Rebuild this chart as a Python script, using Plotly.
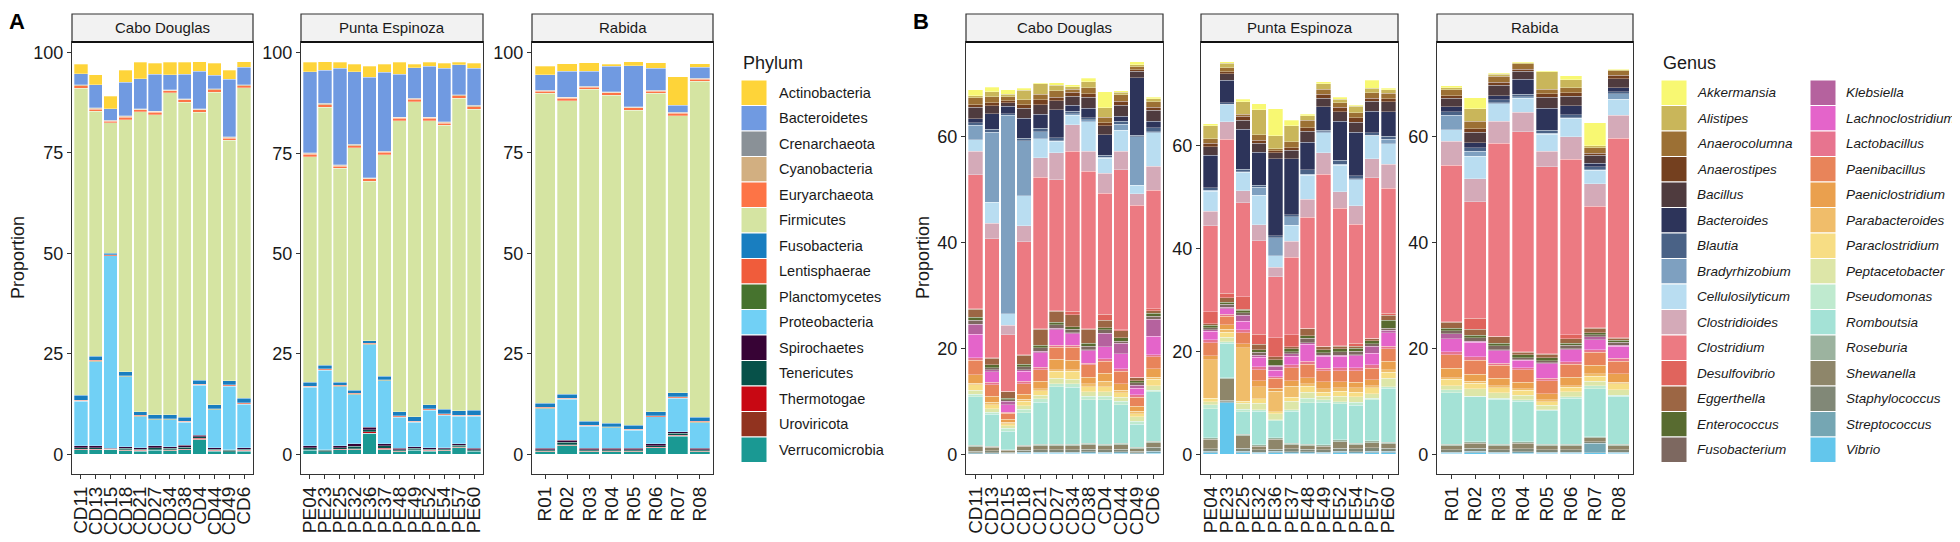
import plotly.graph_objects as go

W, H = 1960, 542
FONT = "Liberation Sans, Arial, sans-serif"

# ---------------- categories ----------------
sites = ["Cabo Douglas", "Punta Espinoza", "Rabida"]
cd_samples = ["CD11", "CD13", "CD15", "CD18", "CD21", "CD27", "CD34", "CD38", "CD4", "CD44", "CD49", "CD6"]
pe_samples = ["PE04", "PE23", "PE25", "PE32", "PE36", "PE37", "PE48", "PE49", "PE52", "PE54", "PE57", "PE60"]
r_samples = ["R01", "R02", "R03", "R04", "R05", "R06", "R07", "R08"]
site_samples = [cd_samples, pe_samples, r_samples]

phyla = ["Actinobacteria", "Bacteroidetes", "Crenarchaeota", "Cyanobacteria", "Euryarchaeota",
         "Firmicutes", "Fusobacteria", "Lentisphaerae", "Planctomycetes", "Proteobacteria",
         "Spirochaetes", "Tenericutes", "Thermotogae", "Uroviricota", "Verrucomicrobia"]
phylum_colors = ["#FED439", "#709AE1", "#8A9197", "#D2AF81", "#FD7446", "#D5E4A2", "#197EC0",
                 "#F05C3B", "#46732E", "#71D0F5", "#370335", "#075149", "#C80813", "#91331F", "#1A9993"]

genera = ["Akkermansia", "Alistipes", "Anaerocolumna", "Anaerostipes", "Bacillus", "Bacteroides",
          "Blautia", "Bradyrhizobium", "Cellulosilyticum", "Clostridioides", "Clostridium",
          "Desulfovibrio", "Eggerthella", "Enterococcus", "Fusobacterium", "Klebsiella",
          "Lachnoclostridium", "Lactobacillus", "Paenibacillus", "Paeniclostridium", "Parabacteroides",
          "Paraclostridium", "Peptacetobacter", "Pseudomonas", "Romboutsia", "Roseburia", "Shewanella",
          "Staphylococcus", "Streptococcus", "Vibrio"]
genus_colors = ["#F8F872", "#C9B65A", "#9C7034", "#74401F", "#4F3B3E", "#2D345A", "#4A6286", "#7EA0C0",
                "#B9DDF1", "#D4AAB8", "#EC7A82", "#E0645D", "#9C6644", "#586B30", "#7D6860", "#B5629E",
                "#E464CA", "#E7748F", "#E8845A", "#EAA04E", "#F0BD6A", "#F7DD84", "#DDE6A8", "#BFEACF",
                "#A4E2D6", "#9CB39F", "#8E866A", "#818877", "#75A6B3", "#63C6EC"]

# ---------------- Phylum proportions (CD x12, PE x12, R x8) ----------------
Actinobacteria = [2.4, 2.5, 3.1, 2.9, 4.1, 2.7, 3.1, 3.0, 2.4, 3.0, 2.2, 1.4,
                  2.3, 2.1, 1.5, 1.9, 2.7, 2.1, 2.9, 0.9, 1.0, 1.3, 0.7, 1.3,
                  2.1, 1.9, 2.1, 0.5, 1.0, 1.3, 7.0, 0.9]
Bacteroidetes = [2.7, 5.8, 2.8, 8.4, 7.5, 9.2, 3.8, 6.1, 9.3, 3.3, 14.3, 4.3,
                 20.2, 8.3, 24.0, 18.1, 25.0, 19.6, 10.7, 7.6, 12.7, 13.3, 7.4, 9.2,
                 3.9, 6.4, 3.7, 6.3, 10.2, 5.5, 1.8, 2.7]
Crenarchaeota = [0.1, 0.1, 0.1, 0.1, 0.1, 0.1, 0.1, 0.1, 0.1, 0.1, 0.1, 0.1,
                 0.1, 0.1, 0.1, 0.1, 0.1, 0.1, 0.1, 0.1, 0.1, 0.1, 0.1, 0.1,
                 0.1, 0.1, 0.1, 0.1, 0.1, 0.1, 0.1, 0.1]
Cyanobacteria = [0.2, 0.2, 0.2, 0.2, 0.2, 0.2, 0.2, 0.2, 0.2, 0.2, 0.2, 0.2,
                 0.2, 0.2, 0.2, 0.2, 0.2, 0.2, 0.2, 0.2, 0.2, 0.2, 0.2, 0.2,
                 0.2, 0.2, 0.2, 0.2, 0.2, 0.2, 0.2, 0.2]
Euryarchaeota = [0.6, 0.6, 0.3, 0.6, 0.5, 0.6, 0.5, 0.6, 0.6, 0.6, 0.5, 0.5,
                 0.7, 0.6, 0.6, 0.6, 0.6, 0.6, 0.6, 0.6, 0.6, 0.6, 0.6, 0.6,
                 0.5, 0.6, 0.5, 0.5, 0.6, 0.5, 0.6, 0.5]
Firmicutes = [76.4, 60.9, 32.5, 62.8, 74.6, 74.7, 80.1, 78.4, 66.6, 77.8, 59.9, 77.3,
              56.1, 64.3, 53.2, 60.3, 39.7, 55.2, 72.5, 78.4, 70.8, 70.7, 77.8, 75.0,
              77.1, 73.0, 82.6, 81.6, 78.4, 79.2, 68.9, 83.6]
Fusobacteria = [1.2, 1.0, 0.4, 0.9, 0.9, 0.9, 0.9, 0.9, 1.0, 0.9, 1.0, 1.1,
                1.0, 0.9, 0.8, 0.8, 0.6, 0.8, 1.0, 1.1, 1.0, 1.1, 1.1, 1.2,
                1.0, 1.0, 0.9, 0.9, 0.9, 1.0, 1.0, 1.0]
Lentisphaerae = [0.2, 0.2, 0.2, 0.2, 0.2, 0.2, 0.2, 0.2, 0.2, 0.2, 0.2, 0.2,
                 0.2, 0.2, 0.2, 0.2, 0.3, 0.2, 0.2, 0.2, 0.2, 0.2, 0.2, 0.2,
                 0.2, 0.2, 0.2, 0.2, 0.2, 0.2, 0.2, 0.2]
Planctomycetes = [0.1, 0.1, 0.05, 0.1, 0.1, 0.1, 0.1, 0.1, 0.1, 0.1, 0.1, 0.1,
                  0.1, 0.1, 0.1, 0.1, 0.1, 0.1, 0.1, 0.1, 0.1, 0.1, 0.1, 0.1,
                  0.1, 0.1, 0.1, 0.1, 0.1, 0.1, 0.1, 0.1]
Proteobacteria = [11.1, 21.0, 47.9, 17.4, 7.7, 6.5, 6.7, 5.7, 12.4, 9.5, 15.8, 10.9,
                  14.6, 19.8, 14.8, 12.3, 20.6, 15.6, 7.8, 6.1, 9.4, 8.1, 6.8, 8.0,
                  9.9, 10.2, 5.5, 5.1, 4.5, 6.7, 8.4, 6.4]
Spirochaetes = [0.4, 0.4, 0.1, 0.4, 0.4, 0.4, 0.4, 0.5, 0.4, 0.3, 0.2, 0.3,
                0.4, 0.2, 0.4, 0.6, 0.6, 0.6, 0.3, 0.4, 0.3, 0.3, 0.4, 0.3,
                0.3, 0.5, 0.3, 0.3, 0.3, 0.4, 0.4, 0.3]
Tenericutes = [0.4, 0.4, 0.1, 0.4, 0.3, 0.5, 0.4, 0.5, 0.4, 0.3, 0.3, 0.3,
               0.5, 0.3, 0.4, 0.6, 0.5, 0.6, 0.3, 0.3, 0.3, 0.3, 0.4, 0.3,
               0.3, 0.6, 0.3, 0.3, 0.3, 0.4, 0.5, 0.3]
Thermotogae = [0.1, 0.1, 0.05, 0.1, 0.1, 0.1, 0.1, 0.1, 0.3, 0.1, 0.05, 0.1,
               0.1, 0.05, 0.1, 0.1, 0.3, 0.2, 0.1, 0.1, 0.1, 0.1, 0.1, 0.05,
               0.1, 0.1, 0.1, 0.1, 0.1, 0.1, 0.1, 0.1]
Uroviricota = [0.1, 0.1, 0.05, 0.1, 0.1, 0.1, 0.1, 0.1, 0.1, 0.1, 0.05, 0.1,
               0.1, 0.05, 0.1, 0.1, 0.1, 0.1, 0.1, 0.1, 0.1, 0.1, 0.1, 0.05,
               0.1, 0.1, 0.1, 0.1, 0.1, 0.1, 0.1, 0.1]
Verrucomicrobia = [1.1, 1.1, 1.2, 0.9, 0.8, 1.0, 0.9, 1.1, 3.6, 0.8, 0.6, 0.8,
                   1.0, 0.6, 1.1, 1.2, 5.2, 1.2, 0.7, 1.0, 0.8, 0.9, 1.7, 0.8,
                   0.7, 2.2, 0.7, 0.7, 0.7, 1.6, 4.5, 0.7]

phylum_values = [Actinobacteria, Bacteroidetes, Crenarchaeota, Cyanobacteria, Euryarchaeota,
                 Firmicutes, Fusobacteria, Lentisphaerae, Planctomycetes, Proteobacteria,
                 Spirochaetes, Tenericutes, Thermotogae, Uroviricota, Verrucomicrobia]

# ---------------- Genus proportions (CD x12, PE x12, R x8) ----------------
Akkermansia = [1.1, 0.9, 0.9, 0.4, 0.2, 0.5, 0.3, 0.7, 3.0, 0.3, 0.6, 0.3,
               0.4, 0.3, 0.5, 1.1, 5.2, 1.1, 0.3, 0.4, 0.4, 0.2, 1.6, 0.3,
               0.3, 2.1, 0.2, 0.2, 0.2, 0.7, 4.4, 0.1]
Alistipes = [0.4, 0.9, 0.4, 1.8, 2.0, 1.0, 0.5, 1.1, 1.8, 0.5, 0.4, 0.6,
             2.5, 0.9, 2.4, 4.9, 2.5, 3.1, 0.9, 1.1, 0.7, 1.2, 0.8, 0.6,
             0.4, 2.4, 0.4, 0.2, 3.3, 1.5, 0.4, 0.2]
Anaerocolumna = [1.3, 1.2, 0.8, 0.9, 1.0, 1.2, 0.6, 1.2, 1.0, 1.2, 0.5, 1.0,
                 0.9, 0.8, 0.4, 1.1, 0.4, 1.1, 1.4, 0.9, 0.9, 1.0, 1.1, 1.1,
                 1.1, 1.4, 1.1, 1.0, 0.9, 1.0, 1.0, 0.9]
Anaerostipes = [0.5, 0.5, 0.4, 0.7, 0.9, 0.7, 0.7, 0.6, 0.6, 0.7, 0.3, 0.6,
                0.6, 0.4, 0.8, 0.6, 0.4, 0.5, 0.7, 0.8, 0.8, 0.9, 0.6, 0.6,
                0.5, 0.6, 0.6, 0.4, 0.6, 0.6, 0.4, 0.6]
Bacillus = [2.2, 1.5, 0.6, 1.9, 1.8, 1.7, 1.7, 2.1, 1.7, 2.1, 1.2, 2.1,
            1.7, 1.2, 1.7, 1.7, 1.2, 1.7, 2.2, 1.7, 1.9, 1.9, 1.9, 1.9,
            1.6, 2.0, 1.9, 1.5, 2.1, 1.8, 1.5, 1.7]
Bacteroides = [0.7, 3.0, 1.4, 3.8, 2.7, 5.3, 1.2, 1.8, 3.9, 1.0, 10.9, 1.2,
               6.3, 4.4, 7.8, 6.4, 14.9, 10.8, 5.3, 4.5, 7.6, 8.5, 4.2, 4.8,
               1.0, 1.0, 0.8, 2.9, 4.2, 1.7, 0.7, 0.8]
Blautia = [0.5, 0.5, 0.3, 0.4, 0.6, 0.5, 0.4, 0.4, 0.4, 0.5, 0.3, 0.7,
           0.5, 0.3, 0.5, 0.4, 0.4, 0.4, 0.9, 0.3, 0.7, 0.6, 0.5, 0.6,
           0.6, 0.6, 0.6, 0.4, 0.5, 0.6, 0.5, 0.4]
Bradyrhizobium = [2.8, 13.3, 37.5, 10.4, 1.4, 0.1, 0.3, 0.4, 0.2, 1.2, 9.2, 0.2,
                  0.2, 0.1, 0.1, 1.6, 3.5, 1.7, 0.2, 0.2, 0.2, 0.1, 0.1, 0.9,
                  2.8, 1.0, 0.2, 0.3, 0.2, 0.1, 0.1, 1.0]
Cellulosilyticum = [2.1, 3.9, 2.2, 5.7, 3.6, 2.2, 1.8, 5.5, 2.8, 3.9, 1.6, 6.4,
                    3.9, 3.3, 3.6, 5.7, 2.2, 3.1, 4.6, 3.9, 5.2, 5.1, 4.5, 3.9,
                    2.1, 4.2, 3.3, 2.7, 3.2, 3.5, 2.6, 3.0]
Clostridioides = [4.5, 3.0, 1.8, 3.0, 3.6, 5.1, 5.0, 3.8, 3.8, 3.5, 2.1, 4.5,
                  2.8, 3.4, 2.3, 3.1, 1.9, 3.1, 3.5, 4.2, 3.2, 3.6, 3.7, 4.7,
                  4.6, 4.4, 4.1, 3.6, 3.0, 4.2, 4.2, 4.4]
Clostridium = [25.3, 22.4, 10.7, 21.4, 28.7, 24.8, 30.3, 29.8, 22.8, 30.3, 32.5, 22.4,
               16.7, 29.9, 18.3, 18.2, 11.8, 15.1, 21.6, 33.4, 26.7, 23.1, 31.1, 24.3,
               29.5, 22.0, 36.5, 41.6, 35.3, 33.2, 23.0, 37.7]
Desulfovibrio = [0.1, 0.1, 0.1, 0.1, 0.1, 0.1, 0.6, 0.1, 1.2, 0.1, 0.1, 0.4,
                 2.3, 0.9, 2.4, 1.9, 3.7, 2.3, 0.1, 0.1, 0.1, 0.6, 0.1, 0.4,
                 0.1, 2.1, 0.1, 0.1, 0.1, 0.8, 0.1, 0.1]
Eggerthella = [1.5, 1.3, 1.2, 1.7, 3.0, 2.0, 2.3, 2.6, 1.4, 1.4, 0.6, 0.4,
               0.3, 0.8, 0.2, 1.1, 0.6, 0.4, 1.4, 0.6, 0.5, 0.4, 0.4, 0.9,
               1.2, 1.1, 1.2, 0.5, 0.6, 0.8, 0.8, 0.3]
Enterococcus = [0.6, 0.5, 0.3, 0.4, 0.5, 0.5, 0.5, 0.6, 0.4, 0.6, 0.4, 0.6,
                0.5, 0.4, 0.5, 0.5, 1.1, 0.6, 0.4, 0.6, 0.6, 0.6, 0.6, 1.6,
                0.4, 0.5, 0.5, 0.5, 0.6, 0.4, 0.4, 0.4]
Fusobacterium = [0.7, 0.4, 0.3, 0.6, 0.6, 0.7, 0.6, 0.6, 0.6, 0.4, 0.4, 0.6,
                 0.4, 0.6, 0.5, 0.5, 0.2, 0.4, 0.9, 0.4, 0.6, 0.6, 0.5, 0.4,
                 0.6, 0.6, 0.7, 0.4, 0.4, 0.6, 0.4, 0.6]
Klebsiella = [1.9, 0.4, 0.6, 0.3, 0.3, 0.3, 0.2, 0.2, 2.6, 2.0, 0.6, 3.2,
              0.3, 0.3, 1.1, 0.4, 0.8, 0.4, 0.3, 0.2, 0.2, 0.2, 1.4, 0.5,
              1.0, 0.2, 0.2, 0.1, 0.2, 0.2, 0.5, 0.2]
Lachnoclostridium = [4.4, 2.0, 1.4, 1.9, 2.7, 2.9, 2.2, 2.4, 2.2, 2.8, 1.2, 3.5,
                     1.6, 1.1, 1.7, 1.9, 1.2, 1.7, 3.3, 2.4, 2.3, 2.4, 2.2, 2.6,
                     2.4, 2.8, 2.4, 1.4, 2.7, 2.3, 1.9, 2.2]
Lactobacillus = [0.5, 0.4, 0.2, 0.5, 0.5, 0.4, 0.4, 0.3, 0.5, 0.5, 0.5, 0.4,
                 0.6, 0.4, 0.6, 0.6, 0.3, 0.6, 0.6, 0.5, 0.6, 0.6, 0.7, 0.5,
                 0.6, 0.6, 0.4, 0.4, 0.5, 0.5, 0.5, 0.6]
Paenibacillus = [2.8, 2.2, 1.2, 1.9, 2.2, 2.2, 2.4, 2.3, 2.3, 2.4, 1.7, 2.2,
                 2.5, 1.6, 2.1, 2.1, 2.0, 2.5, 2.6, 2.1, 2.1, 2.2, 2.2, 2.4,
                 2.5, 2.7, 2.4, 2.4, 2.4, 2.4, 2.5, 2.4]
Paeniclostridium = [1.6, 1.2, 0.5, 1.0, 1.4, 2.0, 1.8, 1.3, 1.5, 1.2, 1.0, 1.6,
                    0.8, 0.9, 0.8, 1.2, 0.5, 1.1, 1.2, 1.4, 1.2, 1.1, 1.2, 1.7,
                    1.8, 1.3, 1.4, 1.2, 1.2, 1.6, 1.6, 1.6]
Parabacteroides = [0.2, 0.4, 0.3, 0.4, 0.4, 0.3, 0.3, 0.5, 1.0, 0.5, 0.4, 0.4,
                   7.5, 0.6, 10.4, 2.3, 4.0, 2.1, 0.5, 0.6, 0.6, 0.8, 0.4, 0.4,
                   0.3, 0.4, 0.4, 0.3, 0.4, 0.3, 0.4, 0.3]
Paraclostridium = [1.1, 0.8, 0.4, 0.8, 0.8, 1.3, 1.5, 1.0, 1.0, 0.8, 0.6, 1.2,
                   0.7, 0.9, 0.4, 0.9, 0.4, 0.8, 1.1, 0.8, 1.0, 0.9, 1.1, 1.2,
                   1.2, 1.0, 1.0, 0.9, 0.6, 0.9, 1.0, 1.1]
Peptacetobacter = [0.7, 0.6, 0.5, 0.7, 0.7, 1.1, 0.9, 0.8, 0.8, 0.8, 0.8, 0.9,
                   0.6, 0.9, 1.1, 1.2, 1.2, 1.6, 1.2, 0.7, 1.1, 1.1, 0.9, 1.7,
                   0.8, 1.4, 1.0, 0.9, 0.9, 0.9, 0.8, 1.0]
Pseudomonas = [0.5, 0.4, 0.5, 0.6, 0.7, 0.5, 0.6, 0.7, 0.7, 0.6, 0.6, 0.3,
               0.7, 0.3, 0.5, 0.3, 0.2, 0.3, 0.9, 0.5, 0.4, 0.6, 0.3, 0.3,
               0.6, 0.1, 0.2, 0.3, 0.1, 0.3, 0.6, 0.2]
Romboutsia = [9.2, 6.1, 3.5, 6.2, 7.9, 10.9, 10.8, 8.2, 8.4, 7.3, 4.4, 9.3,
              5.7, 6.7, 4.4, 6.5, 3.3, 6.2, 8.0, 8.2, 7.0, 7.3, 8.0, 10.4,
              9.7, 8.5, 8.5, 7.6, 6.4, 8.7, 9.1, 9.1]
Roseburia = [0.3, 0.2, 0.1, 0.2, 0.3, 0.3, 0.3, 0.3, 0.3, 0.3, 0.2, 0.3,
             0.3, 0.2, 0.3, 0.3, 0.3, 0.3, 0.3, 0.3, 0.3, 0.3, 0.3, 0.3,
             0.3, 0.3, 0.3, 0.3, 0.3, 0.3, 0.2, 0.3]
Shewanella = [0.8, 0.6, 0.4, 0.7, 0.7, 0.7, 0.7, 0.8, 0.7, 0.8, 0.5, 0.9,
              1.8, 4.2, 2.4, 0.7, 1.9, 0.8, 0.7, 0.7, 1.3, 0.8, 1.0, 0.9,
              0.7, 0.9, 0.7, 1.0, 0.7, 0.7, 0.7, 0.7]
Staphylococcus = [0.3, 0.4, 0.2, 0.4, 0.5, 0.5, 0.5, 0.5, 0.5, 0.5, 0.3, 0.7,
                  0.5, 0.3, 0.6, 0.5, 0.4, 0.6, 0.5, 0.5, 0.6, 0.6, 0.7, 0.6,
                  0.5, 0.6, 0.5, 0.6, 0.5, 0.5, 0.3, 0.5]
Streptococcus = [0.2, 0.2, 0.1, 0.2, 0.2, 0.2, 0.2, 0.3, 0.2, 0.3, 0.2, 0.4,
                 0.3, 0.2, 0.3, 0.2, 0.3, 0.3, 0.3, 0.2, 0.3, 0.3, 0.3, 0.3,
                 0.2, 0.3, 0.2, 0.3, 0.2, 0.2, 1.8, 0.2]
Vibrio = [0.1, 0.1, 0.1, 0.2, 0.2, 0.2, 0.2, 0.2, 0.2, 0.2, 0.1, 0.2,
          0.3, 10.0, 0.3, 0.2, 0.3, 0.2, 0.2, 0.2, 0.3, 0.2, 0.3, 0.3,
          0.2, 0.3, 0.2, 0.2, 0.2, 0.2, 0.3, 0.2]

genus_values = [Akkermansia, Alistipes, Anaerocolumna, Anaerostipes, Bacillus, Bacteroides, Blautia,
                Bradyrhizobium, Cellulosilyticum, Clostridioides, Clostridium, Desulfovibrio, Eggerthella,
                Enterococcus, Fusobacterium, Klebsiella, Lachnoclostridium, Lactobacillus, Paenibacillus,
                Paeniclostridium, Parabacteroides, Paraclostridium, Peptacetobacter, Pseudomonas,
                Romboutsia, Roseburia, Shewanella, Staphylococcus, Streptococcus, Vibrio]

phylum_ticks = [0, 25, 50, 75, 100]
genus_ticks = [0, 20, 40, 60]

# ---------------- layout geometry (pixels) ----------------
PANEL_TOP, PANEL_BOT = 34, 466
STRIP_TOP = 6
A_facets = [(64, 245), (293, 475), (524, 705)]
B_facets = [(958, 1155), (1193, 1390), (1429, 1625)]


def px(x):
    return x / W


def py(y):
    return 1 - y / H


def slices():
    out, start = [], 0
    for s in site_samples:
        out.append((start, start + len(s)))
        start += len(s)
    return out


fig = go.Figure()
layout_axes = {}
shapes, annots = [], []
sl = slices()

panels = [
    (A_facets, phyla, phylum_values, phylum_colors, phylum_ticks),
    (B_facets, genera, genus_values, genus_colors, genus_ticks),
]

ax = 0
for facets, cats, vals, cols, ticks in panels:
    for f, (x0, x1) in enumerate(facets):
        ax += 1
        s0, s1 = sl[f]
        samp = site_samples[f]
        totals = [sum(v[i] for v in vals) for i in range(s0, s1)]
        top = max(totals)
        pad = top * 0.05
        for cat, v, c in reversed(list(zip(cats, vals, cols))):
            fig.add_trace(go.Bar(
                x=samp, y=v[s0:s1], name=cat, marker=dict(color=c, line=dict(color="white", width=0.3)),
                width=0.9, xaxis="x%d" % ax, yaxis="y%d" % ax, showlegend=False))
        sfx = "" if ax == 1 else str(ax)
        layout_axes["xaxis" + sfx] = dict(
            domain=[px(x0), px(x1)], anchor="y" + str(ax), type="category",
            categoryorder="array", categoryarray=samp, range=[-0.6, len(samp) - 0.4],
            tickmode="array", tickvals=samp, ticktext=samp,
            tickangle=-90, ticks="outside", ticklen=4, tickcolor="#333333", tickwidth=1,
            showline=True, mirror=True, linecolor="#333333", linewidth=1.2, showgrid=False,
            zeroline=False, tickfont=dict(size=19, color="#1a1a1a", family=FONT), automargin=False)
        layout_axes["yaxis" + sfx] = dict(
            domain=[py(PANEL_BOT), py(PANEL_TOP)], anchor="x" + str(ax), range=[-pad, top + pad],
            tickvals=ticks, ticks="outside", ticklen=4, tickcolor="#333333", tickwidth=1,
            showline=True, mirror=True, linecolor="#333333", linewidth=1.2, showgrid=False,
            zeroline=False, tickfont=dict(size=18, color="#1a1a1a", family=FONT), automargin=False)
        # strip
        shapes.append(dict(type="rect", xref="paper", yref="paper", x0=px(x0), x1=px(x1),
                           y0=py(PANEL_TOP), y1=py(STRIP_TOP), fillcolor="#F2F2F2",
                           line=dict(color="#333333", width=1.2), layer="above"))
        shapes.append(dict(type="line", xref="paper", yref="paper", x0=px(x0), x1=px(x1),
                           y0=py(PANEL_TOP), y1=py(PANEL_TOP), line=dict(color="#111111", width=2.2),
                           layer="above"))
        annots.append(dict(text=sites[f], xref="paper", yref="paper", x=px((x0 + x1) / 2),
                           y=py((STRIP_TOP + PANEL_TOP) / 2), showarrow=False,
                           font=dict(size=15, color="#1a1a1a", family=FONT),
                           xanchor="center", yanchor="middle"))

# axis titles and panel tags
for xpos in (10, 915):
    annots.append(dict(text="Proportion", xref="paper", yref="paper", x=px(xpos),
                       y=py((PANEL_TOP + PANEL_BOT) / 2), showarrow=False, textangle=-90,
                       font=dict(size=18, color="#1a1a1a", family=FONT),
                       xanchor="center", yanchor="middle"))
for tag, xpos in (("A", 9), ("B", 913)):
    annots.append(dict(text="<b>%s</b>" % tag, xref="paper", yref="paper", x=px(xpos), y=py(14),
                       showarrow=False, font=dict(size=22, color="#000000", family=FONT),
                       xanchor="center", yanchor="middle"))

# manual legends
ROW_H = 25.5
KEY = 26
LEG_TOP = 72


def legend(title, items, colors, col_x, per_col, italic, fsize, gap):
    annots.append(dict(text=title, xref="paper", yref="paper", x=px(col_x[0]), y=py(55),
                       showarrow=False, font=dict(size=18, color="#1a1a1a", family=FONT),
                       xanchor="left", yanchor="middle"))
    for i, (name, c) in enumerate(zip(items, colors)):
        col, row = divmod(i, per_col)
        kx = col_x[col]
        ky = LEG_TOP + row * ROW_H
        shapes.append(dict(type="rect", xref="paper", yref="paper", x0=px(kx), x1=px(kx + KEY),
                           y0=py(ky + ROW_H), y1=py(ky), fillcolor=c,
                           line=dict(color="white", width=1)))
        label = "<i>%s</i>" % name if italic else name
        annots.append(dict(text=label, xref="paper", yref="paper", x=px(kx + KEY + gap),
                           y=py(ky + ROW_H / 2), showarrow=False,
                           font=dict(size=fsize, color="#1a1a1a", family=FONT),
                           xanchor="left", yanchor="middle"))


legend("Phylum", phyla, phylum_colors, [733], 15, False, 14.5, 10)
legend("Genus", genera, genus_colors, [1653, 1802], 15, True, 13.5, 8)

fig.update_layout(
    width=W, height=H, barmode="stack", bargap=0.1,
    margin=dict(l=0, r=0, t=0, b=0), paper_bgcolor="white", plot_bgcolor="white",
    font=dict(family=FONT), shapes=shapes, annotations=annots, showlegend=False,
    **layout_axes)

fig.write_html("out.html")
